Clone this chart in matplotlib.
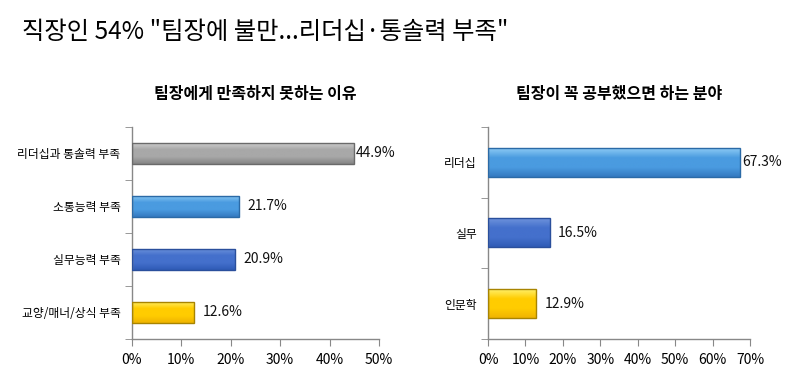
import numpy as np
import matplotlib.pyplot as plt
from matplotlib.colors import LinearSegmentedColormap

plt.rcParams['font.family'] = ['Noto Sans CJK KR', 'DejaVu Sans']

title = '직장인 54% "팀장에 불만...리더십·통솔력 부족"'

left_title = '팀장에게 만족하지 못하는 이유'
left_cats = ['리더십과 통솔력 부족', '소통능력 부족', '실무능력 부족', '교양/매너/상식 부족']
left_vals = [44.9, 21.7, 20.9, 12.6]
left_ticks = [0, 10, 20, 30, 40, 50]

right_title = '팀장이 꼭 공부했으면 하는 분야'
right_cats = ['리더십', '실무', '인문학']
right_vals = [67.3, 16.5, 12.9]
right_ticks = [0, 10, 20, 30, 40, 50, 60, 70]

# (top, middle, bottom, edge)
grey = ('#d2d2d2', '#a8a8a8', '#858585', '#6a6a6a')
lblue = ('#8ccaf4', '#4a9be0', '#3479c0', '#2b6aa6')
blue = ('#6e93dc', '#4470cc', '#2f5bb6', '#2a4f9c')
yellow = ('#fff06a', '#ffcc00', '#f0b400', '#a88400')

left_colors = [grey, lblue, blue, yellow]
right_colors = [lblue, blue, yellow]


def draw_panel(ax, cats, vals, ticks, colors, sub):
    n = len(cats)
    ypos = np.arange(n)
    bars = ax.barh(ypos, vals, height=0.41, color='none', edgecolor='none')
    for bar, c in zip(bars, colors):
        cmap = LinearSegmentedColormap.from_list('g', [c[0], c[1], c[1], c[2]])
        x0, y0 = bar.get_x(), bar.get_y()
        w, h = bar.get_width(), bar.get_height()
        grad = np.linspace(0, 1, 64).reshape(-1, 1)
        im = ax.imshow(grad, cmap=cmap, aspect='auto', origin='upper',
                       extent=[x0, x0 + w, y0 + h, y0], zorder=2)
        im.set_clip_path(bar)
        ax.add_patch(plt.Rectangle((x0, y0), w, h, fill=False,
                                   edgecolor=c[3], linewidth=1.0, zorder=3))
    xmax = ticks[-1]
    for y, v in zip(ypos, vals):
        off = 1.5 if v > 0.85 * xmax else 6
        ax.annotate(f'{v}%', (v, y), xytext=(off, 0), textcoords='offset points',
                    ha='left', va='center', fontsize=10, color='#111111',
                    annotation_clip=False, zorder=4)
    ax.set_xlim(0, xmax)
    ax.set_ylim(n - 0.5, -0.5)
    ax.set_xticks(ticks)
    ax.set_xticklabels([f'{t}%' for t in ticks], fontsize=10)
    ax.set_yticks(ypos)
    ax.set_yticklabels(cats, fontsize=8.5)
    ax.set_yticks(np.arange(n + 1) - 0.5, minor=True)
    ax.tick_params(axis='y', which='major', length=0, pad=8)
    ax.tick_params(axis='y', which='minor', length=5, color='#888888')
    ax.tick_params(axis='x', length=5, color='#888888', pad=5)
    for s in ['top', 'right']:
        ax.spines[s].set_visible(False)
    for s in ['left', 'bottom']:
        ax.spines[s].set_color('#888888')
        ax.spines[s].set_linewidth(1.0)
    ax.set_title(sub, fontsize=11.5, fontweight='bold', pad=20)


fig = plt.figure(figsize=(7.85, 3.9), dpi=100)
ax1 = fig.add_axes([0.1678, 0.1308, 0.315, 0.5436])
ax2 = fig.add_axes([0.6217, 0.1308, 0.3338, 0.5436])

draw_panel(ax1, left_cats, left_vals, left_ticks, left_colors, left_title)
draw_panel(ax2, right_cats, right_vals, right_ticks, right_colors, right_title)

fig.text(0.028, 0.918, title, fontsize=17.5, ha='left', va='center')

fig.savefig('out.png', dpi=100)
